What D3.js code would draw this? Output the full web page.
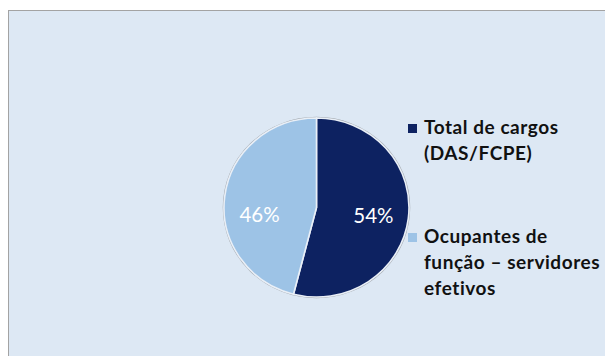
<!DOCTYPE html>
<html><head><meta charset="utf-8">
<script src="https://cdn.jsdelivr.net/npm/d3@7"></script>
<style>html,body{margin:0;padding:0;background:#fff;}svg{display:block;}</style>
</head><body>
<svg id="c" width="605" height="356"></svg>
<script>
const categories = ["Total de cargos (DAS/FCPE)", "Ocupantes de função – servidores efetivos"];
const values = [54, 46];
const labels = ["54%", "46%"];
const legendLines = [["Total de cargos", "(DAS/FCPE)"], ["Ocupantes de", "função – servidores", "efetivos"]];
const colors = ["#0d2261", "#9dc3e6"];

const svg = d3.select("#c");
svg.append("rect").attr("x",8.5).attr("y",10.5).attr("width",610).attr("height",360)
  .attr("fill","#dde8f4").attr("stroke","#a3a3a3").attr("stroke-width",1);

const cx = 316.5, cy = 207.5, rx = 92.5, ry = 89.5;
const pie = d3.pie().sort(null).value(d => d)(values);
const arc = d3.arc().innerRadius(0).outerRadius(rx);

const g = svg.append("g").attr("transform", `translate(${cx},${cy}) scale(1,${ry/rx})`);
g.append("circle").attr("r", rx + 0.5).attr("fill","none").attr("stroke","rgba(90,90,90,0.45)").attr("stroke-width",1.5);
g.selectAll("path").data(pie).join("path")
  .attr("d", arc).attr("fill", (d,i) => colors[i])
  .attr("stroke","#e9eff7").attr("stroke-width",1.6).attr("stroke-linejoin","round");

const labelArc = d3.arc().innerRadius(rx*0.62).outerRadius(rx*0.62);
svg.selectAll("text.pl").data(pie).join("text").attr("class","pl")
  .attr("x", d => cx + labelArc.centroid(d)[0])
  .attr("y", (d,i) => cy + 14.5 + (i===0 ? 1 : 0))
  .attr("text-anchor","middle").attr("fill","#ffffff")
  .attr("font-family","Lato, 'Open Sans', sans-serif").attr("font-size",20.5)
  .text((d,i) => labels[i]);

const legY = [134, 243];
const lg = svg.append("g");
legendLines.forEach((lines, i) => {
  lg.append("rect").attr("x",408).attr("y",legY[i]-10).attr("width",9).attr("height",9).attr("fill",colors[i]);
  const t = lg.append("text").attr("x",424).attr("y",legY[i])
    .attr("font-family","Lato, 'Open Sans', sans-serif").attr("font-weight","bold")
    .attr("font-size",19).attr("letter-spacing",0.55).attr("fill","#111");
  lines.forEach((l, j) => t.append("tspan").attr("x",424).attr("dy", j===0?0:26).text(l));
});
</script>
</body></html>
